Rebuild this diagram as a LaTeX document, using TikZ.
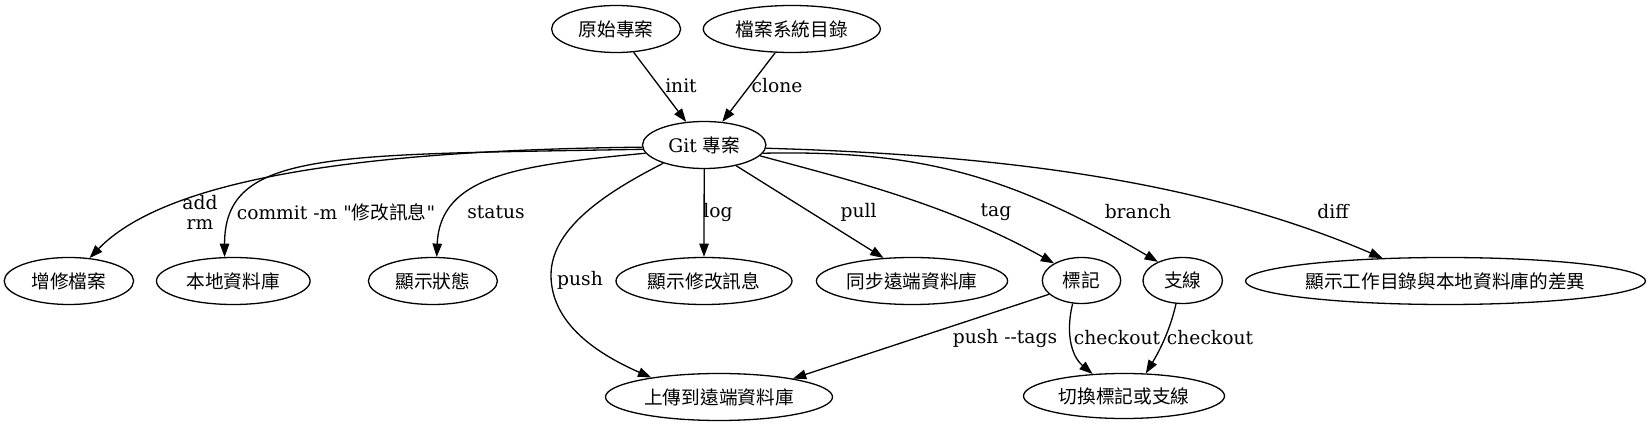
\documentclass[tikz,border=0pt]{standalone}
\usepackage{fontspec}
\newfontfamily\lat{DejaVu Serif}
\newfontfamily\cjk{Noto Sans CJK TC}
\usetikzlibrary{arrows.meta,shapes.geometric}
\newcommand\fsz{\fontsize{18.67}{20}\selectfont}
\begin{document}
\begin{tikzpicture}[x=1pt,y=-1pt,
  nd/.style={draw, ellipse, line width=1.3pt, inner sep=0pt, minimum height=47pt, font=\fsz\cjk},
  lb/.style={inner sep=0pt, font=\fsz\lat, align=center},
  ed/.style={line width=1.3pt, -{Triangle[length=13.3pt,width=9.5pt]}}]
\fill[white] (0,0) rectangle (1650,427);
\useasboundingbox (0,0) rectangle (1650,427);
% nodes
\node[nd, minimum width=129pt] (orig) at (616.1,29) {原始專案};
\node[nd, minimum width=177pt] (fsdir) at (791.8,29) {檔案系統目錄};
\node[nd, minimum width=123.4pt, font=\fsz\lat] (git) at (704.2,145) {Git {\cjk 專案}};
\node[nd, minimum width=129.4pt] (addn) at (68.9,281) {增修檔案};
\node[nd, minimum width=153.6pt] (local) at (233.3,281) {本地資料庫};
\node[nd, minimum width=129pt] (stat) at (432.9,281) {顯示狀態};
\node[nd, minimum width=176pt] (logn) at (704,281) {顯示修改訊息};
\node[nd, minimum width=191.2pt] (pulln) at (912,281) {同步遠端資料庫};
\node[nd, minimum width=78.4pt, minimum height=46pt] (tagn) at (1081.5,280.5) {標記};
\node[nd, minimum width=79.4pt, minimum height=46pt] (br) at (1182.7,280.5) {支線};
\node[nd, minimum width=400pt] (diffn) at (1445.5,281) {顯示工作目錄與本地資料庫的差異};
\node[nd, minimum width=227pt] (pushn) at (719,397) {上傳到遠端資料庫};
\node[nd, minimum width=201pt, minimum height=45pt] (co) at (1124,396) {切換標記或支線};
% edges
\draw[ed] (orig.307) -- (git.128);
\draw[ed] (fsdir.235) -- (git.52);
\draw[ed] (git.182) .. controls (380,150) and (170,175) .. (addn.48);
\draw[ed] (git.184) .. controls (330,155) and (224.5,150) .. (local.110);
\draw[ed] (git.188) .. controls (520,165) and (440,175) .. (stat.81);
\draw[ed] (git.204) .. controls (615,188) and (551,225) .. (551,275) .. controls (551,325) and (600,355) .. (pushn.164);
\draw[ed] (git.south) -- (logn.north);
\draw[ed] (git.327) -- (pulln.141);
\draw[ed] (git.349) .. controls (850,180) and (950,205) .. (tagn.148);
\draw[ed] (git.352) .. controls (920,150) and (1010,175) .. (br.143);
\draw[ed] (git.357) .. controls (1000,155) and (1200,180) .. (diffn.160);
\draw[ed] (tagn.203) -- (pushn.14);
\draw[ed] (tagn.249) .. controls (1066,330) and (1070,355) .. (co.145);
\draw[ed] (br.254) .. controls (1170,330) and (1160,350) .. (co.46);
% labels
\node[lb] (linit) at (681,86) {init};
\node[lb] (lclone) at (777,86) {clone};
\node[lb] (ladd) at (200,212) {add\\rm};
\node[lb] (lcommit) at (336,212) {commit -m "{\cjk 修改訊息}"};
\node[lb] (lstatus) at (496,212) {status};
\node[lb] (llog) at (718,212) {log};
\node[lb] (lpull) at (858.6,212) {pull};
\node[lb] (ltag) at (996,212) {tag};
\node[lb] (lbranch) at (1138,212) {branch};
\node[lb] (ldiff) at (1333,212) {diff};
\node[lb] (lpush) at (580,280) {push};
\node[lb] (lptags) at (1005,338) {push --tags};
\node[lb] (lco1) at (1117,338) {checkout};
\node[lb] (lco2) at (1210,338) {checkout};
\end{tikzpicture}
\end{document}
